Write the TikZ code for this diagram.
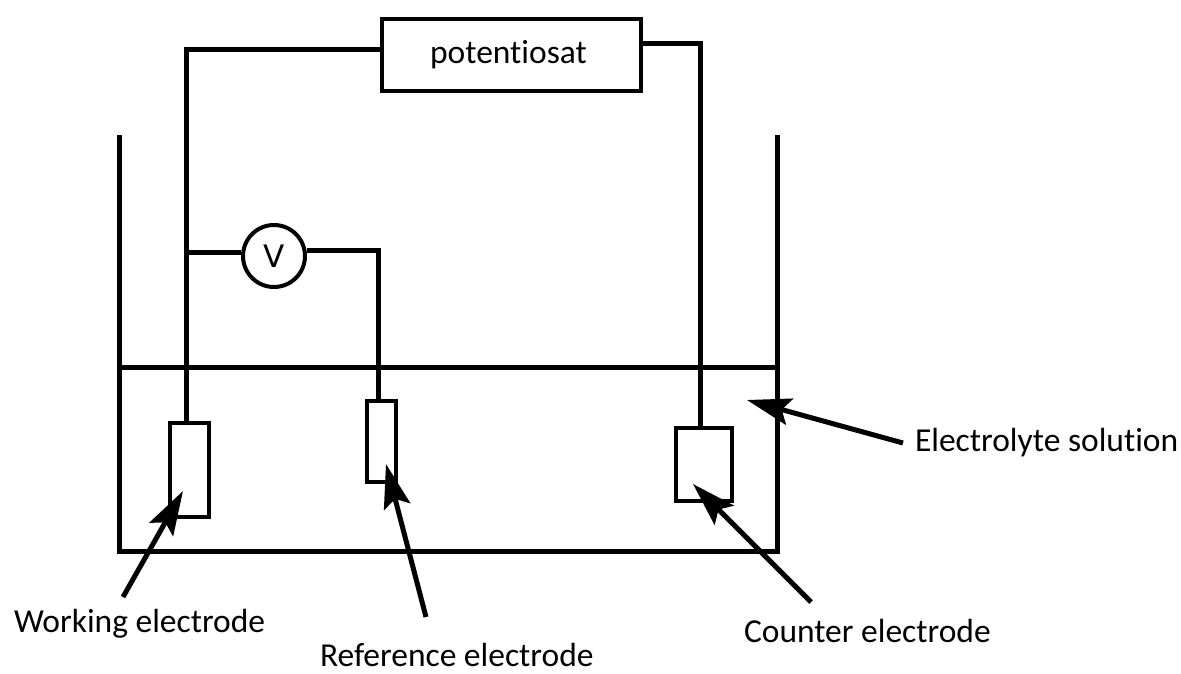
\documentclass[tikz,border=0pt]{standalone}
\usepackage{fontspec}
\setmainfont[Ligatures=NoCommon]{Carlito}
\newfontfamily\vfont{DejaVu Sans}
\usetikzlibrary{arrows.meta}
\tikzset{
  x=1pt,y=-1pt,
  wire/.style={draw=black,line width=5pt},
  boxnode/.style={draw=black,line width=4pt,fill=none,inner sep=0pt,outer sep=0pt,minimum width=#1},
  boxnode/.default=40pt,
  tank/.style={draw=black,line width=5pt},
  pointer/.style={draw=black,line width=5pt,-{Stealth[length=44pt,width=27pt,inset=8pt]}},
  lbl/.style={inner sep=0pt,outer sep=0pt,anchor=base west,font=\fontsize{33.5pt}{36pt}\selectfont}
}
\begin{document}
\begin{tikzpicture}
\useasboundingbox (0,0) rectangle (1181,673);
% tank
\coordinate (tl) at (119.5,135);
\coordinate (bl) at (119.5,551.5);
\coordinate (br) at (777,551.5);
\coordinate (tr) at (777,135);
\coordinate (sl) at (119.5,367.5);
\coordinate (sr) at (777,367.5);
\draw[tank,line join=miter] (tl) -- (bl) -- (br) -- (tr);
\draw[tank] (sl) -- (sr);
% nodes
\node[boxnode=259pt,line width=4.5pt,minimum height=72pt,font=\fontsize{33.5pt}{36pt}\selectfont] (pot) at (511.5,55) {\hspace*{-6pt}\raisebox{-1pt}{potentiosat}};
\node[draw=black,line width=4pt,circle,minimum size=62pt,inner sep=0pt,font=\vfont\fontsize{31pt}{34pt}\selectfont] (vm) at (274,256) {V};
\node[boxnode=39pt,minimum height=94pt] (we) at (189.5,470) {};
\node[boxnode=29pt,minimum height=81pt] (re) at (381,441) {};
\node[boxnode=56pt,minimum height=73pt] (ce) at (704,464) {};
% wires
\coordinate (pl) at (384,49.5);
\coordinate (pr) at (640,43);
\coordinate (wc) at (186.5,49.5);
\coordinate (wb) at (186.5,425);
\coordinate (vl) at (186.5,252.5);
\coordinate (vr) at (378.5,250);
\coordinate (rb) at (378.5,400);
\coordinate (cc) at (700,43);
\coordinate (cb) at (700,427);
\draw[wire,line join=miter] (pl) -- (wc) -- (wb);
\draw[wire,line join=miter] (pr) -- (cc) -- (cb);
\draw[wire] (vl) -- (vm.west |- vl);
\draw[wire,line join=miter] (vm.east |- vr) -- (vr) -- (rb);
% pointers
\coordinate (a1) at (123,597);
\coordinate (a1t) at (183,491);
\coordinate (a2) at (426,617);
\coordinate (a2t) at (386,464);
\coordinate (a3) at (811,602);
\coordinate (a3t) at (693,484);
\coordinate (a4) at (903,443);
\coordinate (a4t) at (747,400);
\draw[pointer] (a1) -- (a1t);
\draw[pointer] (a2) -- (a2t);
\draw[pointer] (a3) -- (a3t);
\draw[pointer] (a4) -- (a4t);
% labels
\node[lbl] (l1) at (14,632) {Working electrode};
\node[lbl] (l2) at (320,666) {Reference electrode};
\node[lbl] (l3) at (744,642) {Counter electrode};
\node[lbl] (l4) at (915,451) {Electrolyte solution};
\end{tikzpicture}
\end{document}
